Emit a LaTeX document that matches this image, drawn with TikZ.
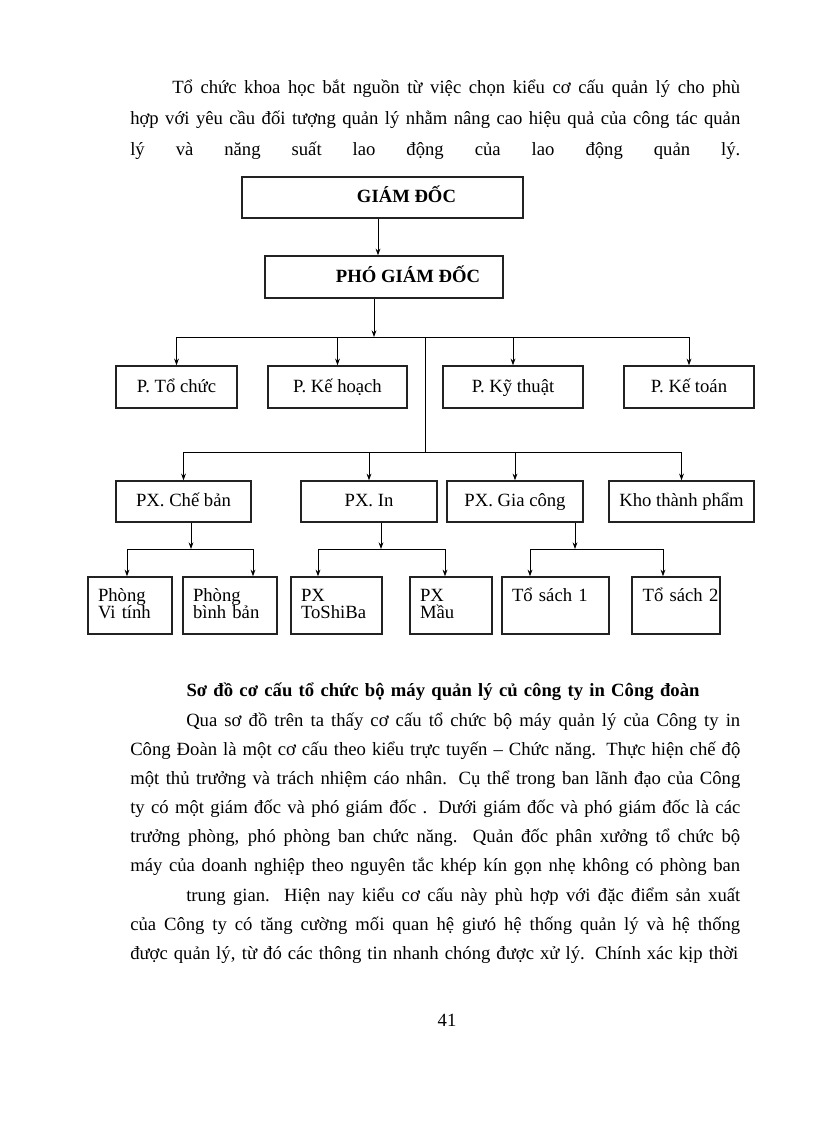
\documentclass[tikz,border=0pt]{standalone}
\usepackage{fontspec}
\setmainfont{Liberation Serif}
\usepackage{xcolor}
\usetikzlibrary{calc,arrows.meta,positioning}
\definecolor{edgec}{HTML}{222222}
\tikzset{
  ar/.style={-{Stealth[length=5pt,width=3.6pt]},line width=0.6pt},
  ln/.style={line width=0.6pt},
  box/.style={draw=edgec,line width=1.1pt,inner sep=0pt,align=center,text height=12pt,text depth=4pt,
    font=\fontsize{14}{16}\selectfont},
  sbox/.style={draw=edgec,line width=1.1pt,inner xsep=7.5pt,inner ysep=2pt,align=left,
    font=\fontsize{14}{13}\selectfont,text height=16pt,text depth=22.75pt,minimum height=42.75pt},
  txt/.style={anchor=base west,inner sep=0pt,font=\fontsize{14}{16}\selectfont}
}

\begin{document}
\begin{tikzpicture}[x=0.75pt,y=-0.75pt]
\useasboundingbox[fill=white] (0,0) rectangle (816,1123);
% text above the chart
\node[txt] (l1) at (172,94) {\makebox[426pt][s]{Tổ chức khoa học bắt nguồn từ việc chọn kiểu cơ cấu quản lý cho phù}};
\node[txt] (l2) at (130,125) {\makebox[457.5pt][s]{hợp với yêu cầu đối tượng quản lý nhằm nâng cao hiệu quả của công tác quản}};
\node[txt] (l3) at (130,156) {\makebox[457.5pt][s]{lý và năng suất lao động của lao động quản lý.}};
% chart
\node[box,minimum width=210.75pt,minimum height=30.75pt,font=\fontsize{14}{16}\selectfont\bfseries] (gd) at (382.5,197.5) {\hspace*{36pt}GIÁM ĐỐC};
\node[box,minimum width=178.5pt,minimum height=31.5pt,font=\fontsize{14}{16}\selectfont\bfseries] (pgd) at (384,277) {\hspace*{36pt}PHÓ GIÁM ĐỐC};
\node[box,minimum width=90.75pt,minimum height=31.5pt] (ptc) at (176.5,387) {P. Tổ chức};
\node[box,minimum width=104.25pt,minimum height=31.5pt] (pkh) at (337.5,387) {P. Kế hoạch};
\node[box,minimum width=105pt,minimum height=31.5pt] (pkt) at (513,387) {P. Kỹ thuật};
\node[box,minimum width=97.5pt,minimum height=31.5pt] (pkto) at (689,387) {P. Kế toán};
\node[box,minimum width=101.25pt,minimum height=30.75pt] (pxcb) at (183.5,501.5) {PX. Chế bản};
\node[box,minimum width=102pt,minimum height=30.75pt] (pxin) at (369,501.5) {PX. In};
\node[box,minimum width=102pt,minimum height=30.75pt] (pxgc) at (515,501.5) {PX. Gia công};
\node[box,minimum width=108.75pt,minimum height=30.75pt] (kho) at (681.5,501.5) {Kho thành phẩm};
\node[sbox,text width=48pt] (pvt) at (130,605.5) {Phòng\\Vi tính};
\node[sbox,text width=55.5pt] (pbb) at (230,605.5) {Phòng\\bình bản};
\node[sbox,text width=53.25pt] (psb) at (336.5,605.5) {PX\\ToShiBa};
\node[sbox,text width=46.5pt] (pmau) at (451,605.5) {PX\\Mầu};
\node[sbox,text width=65.25pt] (ts1) at (555.5,605.5) {Tổ sách 1};
\node[sbox,text width=56pt,inner xsep=5pt] (ts2) at (676,605.5) {\mbox{\hspace{3pt}Tổ sách 2}};
% junctions
\coordinate (a0) at (378,0);
\coordinate (b1) at (374,337);
\coordinate (b2) at (425,452);
\coordinate (j1) at (191,549);
\coordinate (j2) at (381,549);
\coordinate (j3) at (575,549);
\coordinate (c1l) at (127,549);
\coordinate (c1r) at (253,549);
\coordinate (c2l) at (318,549);
\coordinate (c2r) at (445,549);
\coordinate (c3l) at (530,549);
\coordinate (c3r) at (663,549);
\draw[ar] (gd.south -| a0) -- (pgd.north -| a0);
\draw[ar] (pgd.south -| b1) -- (b1);
\draw[ln] (ptc.north |- b1) -- (pkto.north |- b1);
\foreach \n in {ptc,pkh,pkt,pkto} \draw[ar] (\n.north |- b1) -- (\n.north);
\draw[ln] (b1 -| b2) -- (b2);
\draw[ln] (pxcb.north |- b2) -- (kho.north |- b2);
\foreach \n in {pxcb,pxin,pxgc,kho} \draw[ar] (\n.north |- b2) -- (\n.north);
\draw[ar] (pxcb.south -| j1) -- (j1);
\draw[ar] (pxin.south -| j2) -- (j2);
\draw[ar] (pxgc.south -| j3) -- (j3);
\draw[ln] (c1l) -- (c1r);
\draw[ln] (c2l) -- (c2r);
\draw[ln] (c3l) -- (c3r);
\draw[ar] (c1l) -- (c1l |- pvt.north);
\draw[ar] (c1r) -- (c1r |- pbb.north);
\draw[ar] (c2l) -- (c2l |- psb.north);
\draw[ar] (c2r) -- (c2r |- pmau.north);
\draw[ar] (c3l) -- (c3l |- ts1.north);
\draw[ar] (c3r) -- (c3r |- ts2.north);
% caption and text below
\node[anchor=base,inner sep=0pt,font=\fontsize{14}{16}\selectfont\bfseries] (cap) at (443,696) {\makebox[384.75pt][s]{Sơ đồ cơ cấu tổ chức bộ máy quản lý củ công ty in Công đoàn}};
\node[txt] (m1) at (186,726) {\makebox[415.5pt][s]{Qua sơ đồ trên ta thấy cơ cấu tổ chức bộ máy quản lý của Công ty in}};
\node[txt] (m2) at (130,755) {\makebox[457.5pt][s]{Công Đoàn là một cơ cấu theo kiểu trực tuyến – Chức năng. Thực hiện chế độ}};
\node[txt] (m3) at (130,784) {\makebox[457.5pt][s]{một thủ trưởng và trách nhiệm cáo nhân. Cụ thể trong ban lãnh đạo của Công}};
\node[txt] (m4) at (130,813) {\makebox[457.5pt][s]{ty có một giám đốc và phó giám đốc . Dưới giám đốc và phó giám đốc là các}};
\node[txt] (m5) at (130,842) {\makebox[457.5pt][s]{trưởng phòng, phó phòng ban chức năng. Quản đốc phân xưởng tổ chức bộ}};
\node[txt] (m6) at (130,871) {\makebox[457.5pt][s]{máy của doanh nghiệp theo nguyên tắc khép kín gọn nhẹ không có phòng ban}};
\node[txt] (m7) at (186,901) {\makebox[415.5pt][s]{trung gian. Hiện nay kiểu cơ cấu này phù hợp với đặc điểm sản xuất}};
\node[txt] (m8) at (130,930) {\makebox[457.5pt][s]{của Công ty có tăng cường mối quan hệ giưó hệ thống quản lý và hệ thống}};
\node[txt] (m9) at (130,959) {\makebox[456pt][s]{được quản lý, từ đó các thông tin nhanh chóng được xử lý. Chính xác kịp thời}};
\node[anchor=base,inner sep=0pt,font=\fontsize{14}{16}\selectfont] (pg) at (447,1026) {41};
\end{tikzpicture}
\end{document}
